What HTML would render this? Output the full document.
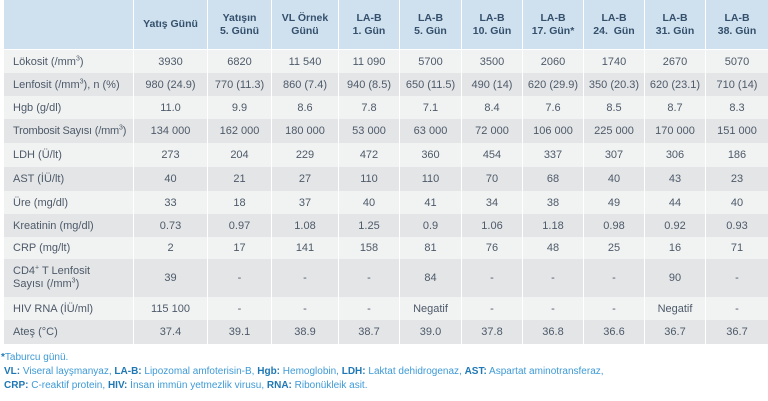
<!DOCTYPE html>
<html>
<head>
<meta charset="utf-8">
<style>
html,body{margin:0;padding:0;background:#fff;}
body{width:768px;height:401px;position:relative;overflow:hidden;font-family:"Liberation Sans",sans-serif;}
.grid{position:absolute;left:4px;top:0;display:grid;
grid-template-columns:129px 73px 63px 66px 60px 61px 60px 60px 60px 60px 62px;
grid-template-rows:50px 23px 23px 23px 24px 24px 24px 23px 23px 22px 38px 23px 24px;
column-gap:1px;row-gap:0;background:#fff;}
.grid div{display:flex;align-items:center;justify-content:center;text-align:center;font-size:11px;color:#4d5a69;white-space:nowrap;}
.grid .h{background:#cfe1ee;color:#34506c;font-weight:bold;font-size:10.5px;line-height:12.5px;border-bottom:1px solid #fff;}
.grid .l{justify-content:flex-start;text-align:left;padding-left:9px;}
.grid .l span{display:block;}
.L{background:#f1f2f2;}
.D{background:#e4e5e7;}
sup{font-size:7px;line-height:0;vertical-align:super;}
.fn{position:absolute;font-size:10px;color:#3d9ad6;white-space:nowrap;}
.fn b{color:#1f78b4;}
</style>
</head>
<body>
<div class="grid">
<div class="h"></div><div class="h"><span>Yatış Günü</span></div><div class="h"><span>Yatışın<br>5. Günü</span></div><div class="h"><span>VL Örnek<br>Günü</span></div><div class="h"><span>LA-B<br>1. Gün</span></div><div class="h"><span>LA-B<br>5. Gün</span></div><div class="h"><span>LA-B<br>10. Gün</span></div><div class="h"><span>LA-B<br>17. Gün*</span></div><div class="h"><span>LA-B<br>24.&nbsp; Gün</span></div><div class="h"><span>LA-B<br>31. Gün</span></div><div class="h"><span>LA-B<br>38. Gün</span></div>

<div class="L l"><span>Lökosit (/mm<sup>3</sup>)</span></div><div class="L">3930</div><div class="L">6820</div><div class="L">11 540</div><div class="L">11 090</div><div class="L">5700</div><div class="L">3500</div><div class="L">2060</div><div class="L">1740</div><div class="L">2670</div><div class="L">5070</div>

<div class="D l"><span>Lenfosit (/mm<sup>3</sup>), n (%)</span></div><div class="D">980 (24.9)</div><div class="D">770 (11.3)</div><div class="D">860 (7.4)</div><div class="D">940 (8.5)</div><div class="D">650 (11.5)</div><div class="D">490 (14)</div><div class="D">620 (29.9)</div><div class="D">350 (20.3)</div><div class="D">620 (23.1)</div><div class="D">710 (14)</div>

<div class="L l"><span>Hgb (g/dl)</span></div><div class="L">11.0</div><div class="L">9.9</div><div class="L">8.6</div><div class="L">7.8</div><div class="L">7.1</div><div class="L">8.4</div><div class="L">7.6</div><div class="L">8.5</div><div class="L">8.7</div><div class="L">8.3</div>

<div class="D l"><span style="letter-spacing:-0.2px;">Trombosit Sayısı (/mm<sup>3</sup>)</span></div><div class="D">134 000</div><div class="D">162 000</div><div class="D">180 000</div><div class="D">53 000</div><div class="D">63 000</div><div class="D">72 000</div><div class="D">106 000</div><div class="D">225 000</div><div class="D">170 000</div><div class="D">151 000</div>

<div class="L l"><span>LDH (Ü/lt)</span></div><div class="L">273</div><div class="L">204</div><div class="L">229</div><div class="L">472</div><div class="L">360</div><div class="L">454</div><div class="L">337</div><div class="L">307</div><div class="L">306</div><div class="L">186</div>

<div class="D l"><span>AST (İÜ/lt)</span></div><div class="D">40</div><div class="D">21</div><div class="D">27</div><div class="D">110</div><div class="D">110</div><div class="D">70</div><div class="D">68</div><div class="D">40</div><div class="D">43</div><div class="D">23</div>

<div class="L l"><span>Üre (mg/dl)</span></div><div class="L">33</div><div class="L">18</div><div class="L">37</div><div class="L">40</div><div class="L">41</div><div class="L">34</div><div class="L">38</div><div class="L">49</div><div class="L">44</div><div class="L">40</div>

<div class="D l"><span>Kreatinin (mg/dl)</span></div><div class="D">0.73</div><div class="D">0.97</div><div class="D">1.08</div><div class="D">1.25</div><div class="D">0.9</div><div class="D">1.06</div><div class="D">1.18</div><div class="D">0.98</div><div class="D">0.92</div><div class="D">0.93</div>

<div class="L l"><span>CRP (mg/lt)</span></div><div class="L">2</div><div class="L">17</div><div class="L">141</div><div class="L">158</div><div class="L">81</div><div class="L">76</div><div class="L">48</div><div class="L">25</div><div class="L">16</div><div class="L">71</div>

<div class="D l"><span style="line-height:13px;">CD4<sup>+</sup> T Lenfosit<br>Sayısı (/mm<sup>3</sup>)</span></div><div class="D">39</div><div class="D">-</div><div class="D">-</div><div class="D">-</div><div class="D">84</div><div class="D">-</div><div class="D">-</div><div class="D">-</div><div class="D">90</div><div class="D">-</div>

<div class="L l"><span>HIV RNA (İÜ/ml)</span></div><div class="L">115 100</div><div class="L">-</div><div class="L">-</div><div class="L">-</div><div class="L">Negatif</div><div class="L">-</div><div class="L">-</div><div class="L">-</div><div class="L">Negatif</div><div class="L">-</div>

<div class="D l"><span>Ateş (°C)</span></div><div class="D">37.4</div><div class="D">39.1</div><div class="D">38.9</div><div class="D">38.7</div><div class="D">39.0</div><div class="D">37.8</div><div class="D">36.8</div><div class="D">36.6</div><div class="D">36.7</div><div class="D">36.7</div>
</div>

<div class="fn" style="left:1px;top:352px;"><b>*</b>Taburcu günü.</div>
<div class="fn" style="left:4px;top:366px;"><b>VL:</b> Viseral layşmanyaz, <b>LA-B:</b> Lipozomal amfoterisin-B, <b>Hgb:</b> Hemoglobin, <b>LDH:</b> Laktat dehidrogenaz, <b>AST:</b> Aspartat aminotransferaz,</div>
<div class="fn" style="left:4px;top:380px;"><b>CRP:</b> C-reaktif protein, <b>HIV:</b> İnsan immün yetmezlik virusu, <b>RNA:</b> Ribonükleik asit.</div>
</body>
</html>
